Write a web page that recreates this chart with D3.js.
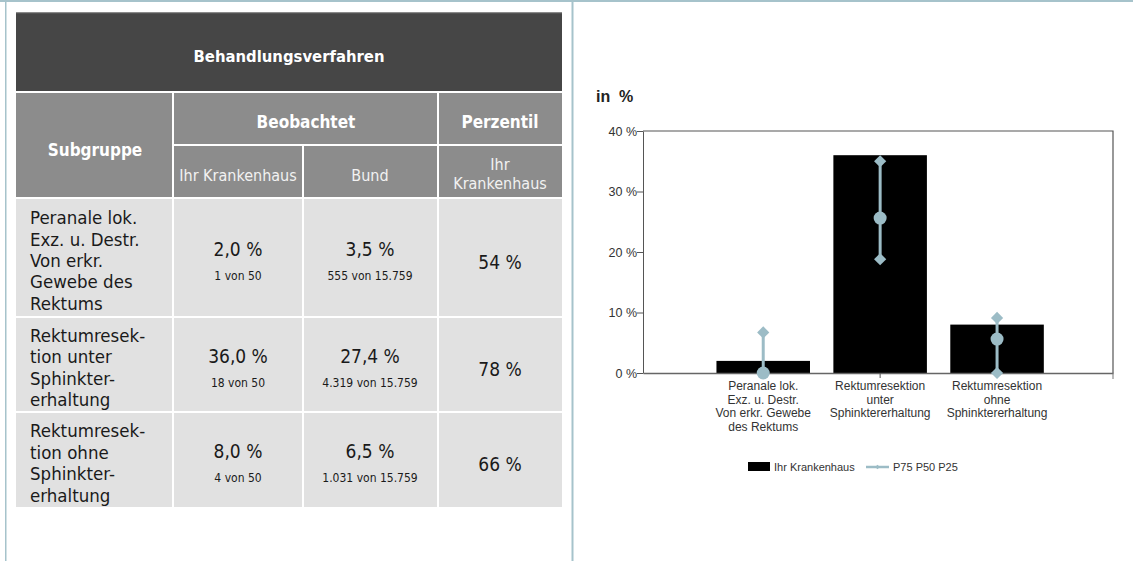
<!DOCTYPE html>
<html>
<head>
<meta charset="utf-8">
<script src="https://cdn.jsdelivr.net/npm/d3@7"></script>
<style>
  html, body { margin: 0; padding: 0; background: #fff; }
  svg { display: block; }
</style>
</head>
<body>
<svg id="page" width="1133" height="561"></svg>
<script>
// ---- Data ----
const subgroupLines = [
  ["Peranale lok.", "Exz. u. Destr.", "Von erkr.", "Gewebe des", "Rektums"],
  ["Rektumresek-", "tion unter", "Sphinkter-", "erhaltung"],
  ["Rektumresek-", "tion ohne", "Sphinkter-", "erhaltung"]
];
const categoryLabels = [
  ["Peranale lok.", "Exz. u. Destr.", "Von erkr. Gewebe", "des Rektums"],
  ["Rektumresektion", "unter", "Sphinktererhaltung"],
  ["Rektumresektion", "ohne", "Sphinktererhaltung"]
];
const hospitalPct = [2.0, 36.0, 8.0];
const hospitalCount = ["1 von 50", "18 von 50", "4 von 50"];
const bundPct = [3.5, 27.4, 6.5];
const bundCount = ["555 von 15.759", "4.319 von 15.759", "1.031 von 15.759"];
const percentileRank = [54, 78, 66];
const p75 = [6.7, 35.0, 9.1];
const p50 = [0.0, 25.6, 5.6];
const p25 = [0.0, 18.8, 0.0];
const yTicks = [0, 10, 20, 30, 40];

const fmt1 = v => d3.format(".1f")(v).replace(".", ",") + " %";

const svg = d3.select("#page");
const tableFont = "'DejaVu Sans Condensed', 'Liberation Sans Narrow', sans-serif";
const chartFont = "'Liberation Sans', Arial, sans-serif";

// ---- Page frame ----
const frameColor = "#a6c3cb";
svg.append("rect").attr("x", 0).attr("y", 0).attr("width", 1133).attr("height", 2).attr("fill", frameColor);
svg.append("rect").attr("x", 5).attr("y", 0).attr("width", 1.5).attr("height", 561).attr("fill", frameColor);
svg.append("rect").attr("x", 571.5).attr("y", 0).attr("width", 2).attr("height", 561).attr("fill", frameColor);

// ---- Table ----
const colX = [16, 174, 304, 439, 562]; // column boundaries
const gap = 2;
const headRows = [[12, 91], [93, 144], [146, 197]];
const dataRows = [[199, 316], [318, 411], [413, 507]];

const table = svg.append("g").attr("class", "table");

// title row
table.append("rect").attr("x", colX[0]).attr("y", headRows[0][0])
  .attr("width", colX[4] - colX[0]).attr("height", headRows[0][1] - headRows[0][0])
  .attr("fill", "#464646");
table.append("rect").attr("x", colX[0]).attr("y", headRows[0][0])
  .attr("width", colX[4] - colX[0]).attr("height", 1.2).attr("fill", "#8a8a8a");

const headCells = [
  { x0: colX[0], x1: colX[1] - gap, y0: headRows[1][0], y1: headRows[2][1] },
  { x0: colX[1], x1: colX[3] - gap, y0: headRows[1][0], y1: headRows[1][1] },
  { x0: colX[3], x1: colX[4], y0: headRows[1][0], y1: headRows[1][1] },
  { x0: colX[1], x1: colX[2] - gap, y0: headRows[2][0], y1: headRows[2][1] },
  { x0: colX[2], x1: colX[3] - gap, y0: headRows[2][0], y1: headRows[2][1] },
  { x0: colX[3], x1: colX[4], y0: headRows[2][0], y1: headRows[2][1] }
];
table.selectAll("rect.head").data(headCells).join("rect")
  .attr("class", "head")
  .attr("x", d => d.x0).attr("y", d => d.y0)
  .attr("width", d => d.x1 - d.x0).attr("height", d => d.y1 - d.y0)
  .attr("fill", "#8c8c8c");

const headTexts = [
  { t: "Behandlungsverfahren", x: 289, y: 62, size: 16.5, bold: true },
  { t: "Subgruppe", x: 95, y: 156, size: 17, bold: true },
  { t: "Beobachtet", x: 306, y: 128, size: 17, bold: true },
  { t: "Perzentil", x: 500, y: 128, size: 17, bold: true },
  { t: "Ihr Krankenhaus", x: 238, y: 181, size: 16, bold: false },
  { t: "Bund", x: 370, y: 181, size: 16, bold: false },
  { t: "Ihr", x: 500, y: 170, size: 16, bold: false },
  { t: "Krankenhaus", x: 500, y: 189, size: 16, bold: false }
];
table.selectAll("text.head").data(headTexts).join("text")
  .attr("class", "head")
  .attr("x", d => d.x).attr("y", d => d.y)
  .attr("text-anchor", "middle")
  .attr("font-family", tableFont)
  .attr("font-size", d => d.size)
  .attr("font-weight", d => d.bold ? "bold" : "normal")
  .attr("fill", d => d.bold ? "#ffffff" : "#f2f2f2")
  .text(d => d.t);

// data rows
const rowsG = table.selectAll("g.row").data(dataRows).join("g").attr("class", "row");
rowsG.each(function (r, i) {
  const g = d3.select(this);
  const cells = [0, 1, 2, 3].map(c => ({
    x0: colX[c], x1: c === 3 ? colX[4] : colX[c + 1] - gap
  }));
  g.selectAll("rect").data(cells).join("rect")
    .attr("x", d => d.x0).attr("y", r[0])
    .attr("width", d => d.x1 - d.x0).attr("height", r[1] - r[0])
    .attr("fill", "#e1e1e1");

  const mid = (r[0] + r[1]) / 2;
  const lines = subgroupLines[i];
  const lh = 21.4;
  const firstBase = mid - (lines.length - 1) * lh / 2 + 9.5;
  g.append("text")
    .attr("font-family", tableFont).attr("font-size", 18.5).attr("fill", "#1a1a1a")
    .selectAll("tspan").data(lines).join("tspan")
    .attr("x", 30).attr("y", (d, k) => firstBase + k * lh)
    .text(d => d);

  const centers = [238, 370];
  const pcts = [hospitalPct[i], bundPct[i]];
  const counts = [hospitalCount[i], bundCount[i]];
  centers.forEach((cx, k) => {
    g.append("text").attr("x", cx).attr("y", mid - 2)
      .attr("text-anchor", "middle").attr("font-family", tableFont)
      .attr("font-size", 19).attr("fill", "#1a1a1a").text(fmt1(pcts[k]));
    g.append("text").attr("x", cx).attr("y", mid + 22)
      .attr("text-anchor", "middle").attr("font-family", tableFont)
      .attr("font-size", 12).attr("fill", "#1a1a1a").text(counts[k]);
  });
  g.append("text").attr("x", 500).attr("y", mid + 11)
    .attr("text-anchor", "middle").attr("font-family", tableFont)
    .attr("font-size", 19).attr("fill", "#1a1a1a").text(percentileRank[i] + " %");
});

// ---- Chart ----
const plot = { left: 643, right: 1113, top: 131, bottom: 373 };
const chart = svg.append("g").attr("class", "chart");

const y = d3.scaleLinear().domain([0, 40]).range([plot.bottom, plot.top]);
const x = d3.scaleBand().domain(d3.range(hospitalPct.length))
  .range([plot.left, plot.right]).paddingInner(0.2).paddingOuter(0.61).align(0.515);

chart.append("text").attr("x", 596).attr("y", 102)
  .attr("font-family", chartFont).attr("font-weight", "bold").attr("font-size", 16)
  .attr("fill", "#222").attr("xml:space", "preserve").text("in  %");

// y axis
const yAxis = chart.append("g").attr("transform", `translate(${plot.left},0)`)
  .call(d3.axisLeft(y).tickValues(yTicks).tickSize(6).tickSizeOuter(0).tickFormat(d => d + " %"));
yAxis.select(".domain").attr("stroke", "#555");
yAxis.selectAll(".tick line").attr("stroke", "#555");
yAxis.selectAll(".tick text").attr("font-family", chartFont).attr("font-size", 12.5)
  .attr("fill", "#333").attr("x", -6);

// bars
chart.selectAll("rect.bar").data(hospitalPct).join("rect")
  .attr("class", "bar")
  .attr("x", (d, i) => x(i)).attr("width", x.bandwidth())
  .attr("y", d => y(d)).attr("height", d => y(0) - y(d))
  .attr("fill", "#000");

// frame (top and right)
chart.append("path")
  .attr("d", `M${plot.left},${plot.top}H${plot.right}V${plot.bottom}`)
  .attr("fill", "none").attr("stroke", "#555").attr("stroke-width", 1.2);

// x axis
const xAxis = chart.append("g").attr("transform", `translate(0,${plot.bottom})`)
  .call(d3.axisBottom(x).tickSize(5).tickSizeOuter(0).tickFormat(""));
xAxis.select(".domain").attr("stroke", "#666").attr("stroke-width", 1.6);
xAxis.selectAll(".tick line").attr("stroke", "#555");
chart.append("line").attr("x1", plot.right).attr("x2", plot.right)
  .attr("y1", plot.bottom).attr("y2", plot.bottom + 6).attr("stroke", "#777");

// category labels
chart.selectAll("text.cat").data(categoryLabels).join("text")
  .attr("class", "cat")
  .attr("font-family", chartFont).attr("font-size", 12).attr("fill", "#333")
  .attr("text-anchor", "middle")
  .each(function (lines, i) {
    d3.select(this).selectAll("tspan").data(lines).join("tspan")
      .attr("x", x(i) + x.bandwidth() / 2)
      .attr("y", (d, k) => plot.bottom + 17 + k * 13.5)
      .text(d => d);
  });

// percentile whiskers
const pColor = "#9cbcc6";
const cx = i => x(i) + x.bandwidth() / 2;
const diamond = d3.symbol().type(d3.symbolDiamond2).size(95);
const pg = chart.selectAll("g.pct").data(d3.range(p75.length)).join("g").attr("class", "pct");
pg.append("line")
  .attr("x1", cx).attr("x2", cx)
  .attr("y1", i => y(p75[i])).attr("y2", i => y(p25[i]))
  .attr("stroke", pColor).attr("stroke-width", 3);
pg.append("path").attr("d", diamond)
  .attr("transform", i => `translate(${cx(i)},${y(p75[i])})`).attr("fill", pColor);
pg.append("path").attr("d", diamond)
  .attr("transform", i => `translate(${cx(i)},${y(p25[i])})`).attr("fill", pColor);
pg.append("circle").attr("cx", cx).attr("cy", i => y(p50[i])).attr("r", 6.5).attr("fill", pColor);

// legend
const legend = chart.append("g").attr("font-family", chartFont).attr("font-size", 11).attr("fill", "#333");
legend.append("rect").attr("x", 748).attr("y", 462).attr("width", 22).attr("height", 9).attr("fill", "#000");
legend.append("text").attr("x", 774).attr("y", 471).text("Ihr Krankenhaus");
legend.append("line").attr("x1", 866).attr("x2", 889).attr("y1", 467).attr("y2", 467)
  .attr("stroke", pColor).attr("stroke-width", 2.5);
legend.append("path").attr("d", d3.symbol().type(d3.symbolDiamond2).size(14))
  .attr("transform", "translate(877.5,467)").attr("fill", pColor);
legend.append("text").attr("x", 893).attr("y", 471).text("P75 P50 P25");
</script>
</body>
</html>
